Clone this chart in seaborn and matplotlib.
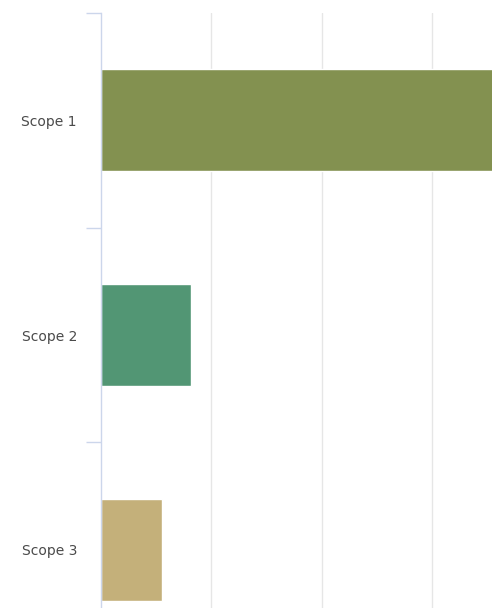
import matplotlib
matplotlib.use("Agg")
import matplotlib.pyplot as plt
import seaborn as sns
import pandas as pd

categories = ["Scope 1", "Scope 2", "Scope 3"]
values = [3.9, 0.82, 0.56]
colors = ["#839150", "#529674", "#c4b07a"]

sns.set_style("white")
plt.rcParams["font.family"] = ["DejaVu Sans"]

W, H = 492, 608
fig = plt.figure(figsize=(W / 100, H / 100), dpi=100)
left_px, top_px, right_px, bottom_px = 100.5, 13, 542.5, 657
ax = fig.add_axes([left_px / W, (H - bottom_px) / H, (right_px - left_px) / W, (bottom_px - top_px) / H])

df = pd.DataFrame({"category": categories, "value": values})
sns.barplot(data=df, x="value", y="category", hue="category", palette=colors,
            width=0.475, orient="h", legend=False, ax=ax, saturation=1)

ax.set_xlim(0, 4)
ax.set_ylim(2.5, -0.5)
ax.set_xticks([1, 2, 3])
ax.set_xticklabels([])
ax.tick_params(axis="x", length=0)
ax.grid(axis="x", color="#e6e6e6", linewidth=1)
ax.set_axisbelow(True)
ax.set_xlabel("")
ax.set_ylabel("")

ax.set_yticks([0, 1, 2])
ax.set_yticklabels(categories)
ax.set_yticks([-0.5, 0.5, 1.5], minor=True)
ax.tick_params(axis="y", which="major", length=0, pad=17, labelsize=10, labelcolor="#4a4a4a")
ax.tick_params(axis="y", which="minor", length=10.5, width=1, color="#ccd6eb", left=True)

for s in ["top", "right", "bottom"]:
    ax.spines[s].set_visible(False)
ax.spines["left"].set_color("#ccd6eb")
ax.spines["left"].set_linewidth(1)

fig.savefig("out.png", dpi=100)
